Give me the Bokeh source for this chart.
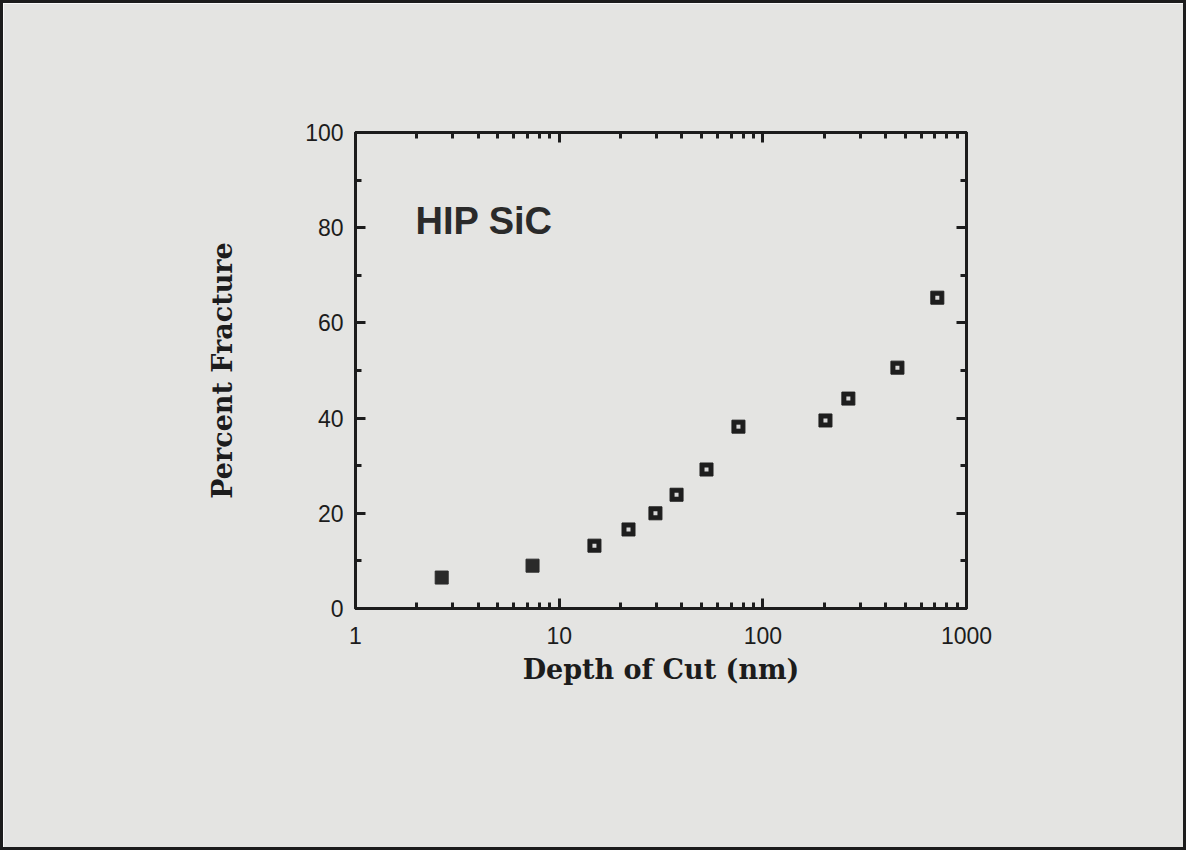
from bokeh.plotting import figure
from bokeh.models import FixedTicker, LinearAxis, LogAxis, Label, Range1d
from bokeh.embed import file_html
from bokeh.resources import INLINE

# Data
depth_filled = [2.65, 7.4]
frac_filled = [6.5, 9.0]
depth_open = [14.9, 21.9, 29.7, 37.7, 52.9, 75.9, 203, 263, 458, 719]
frac_open = [13.2, 16.6, 20.0, 23.9, 29.2, 38.2, 39.5, 44.1, 50.6, 65.3]

x_major = [1, 10, 100, 1000]
x_minor = [2, 3, 4, 5, 6, 7, 8, 9, 20, 30, 40, 50, 60, 70, 80, 90,
           200, 300, 400, 500, 600, 700, 800, 900]
y_major = [0, 20, 40, 60, 80, 100]
y_minor = [10, 30, 50, 70, 90]
x_labels = {1: "1", 10: "10", 100: "100", 1000: "1000"}
blank_x = {1: " ", 10: " ", 100: " ", 1000: " "}
blank_y = {0: " ", 20: " ", 40: " ", 60: " ", 80: " ", 100: " "}

BG = "#e4e4e2"
INK = "#1c1c1c"

p = figure(width=1186, height=850, x_axis_type="log",
           x_range=Range1d(1, 1000), y_range=Range1d(0, 100),
           output_backend="svg", toolbar_location=None,
           min_border_left=352, min_border_right=223,
           min_border_top=129, min_border_bottom=245)
p.background_fill_color = BG
p.border_fill_color = BG
p.grid.visible = False
p.outline_line_color = INK
p.outline_line_width = 3
p.styles = {"border": "3px solid #1c1c1c", "box-sizing": "border-box"}

xt = FixedTicker(ticks=x_major, minor_ticks=x_minor)
yt = FixedTicker(ticks=y_major, minor_ticks=y_minor)


def style_axis(ax):
    ax.axis_line_color = INK
    ax.axis_line_width = 3
    ax.major_tick_in = 10
    ax.major_tick_out = 0
    ax.minor_tick_in = 6
    ax.minor_tick_out = 0
    ax.major_tick_line_color = INK
    ax.major_tick_line_width = 3
    ax.minor_tick_line_color = INK
    ax.minor_tick_line_width = 3
    ax.major_label_text_font = "Liberation Sans"
    ax.major_label_text_font_size = "23px"
    ax.major_label_text_color = INK
    ax.axis_label_text_font = "DejaVu Serif"
    ax.axis_label_text_font_style = "bold"
    ax.axis_label_text_font_size = "27px"
    ax.axis_label_text_color = INK


xa = p.xaxis[0]
xa.ticker = xt
xa.major_label_overrides = x_labels
xa.axis_label = "Depth of Cut (nm)"
style_axis(xa)
xa.major_label_standoff = 18
xa.axis_label_standoff = 7

ya = p.yaxis[0]
ya.ticker = yt
ya.axis_label = "Percent Fracture"
style_axis(ya)
ya.major_label_standoff = 12
ya.axis_label_standoff = 64

top = LogAxis(ticker=xt)
style_axis(top)
top.major_label_overrides = blank_x
p.add_layout(top, "above")
right = LinearAxis(ticker=yt)
style_axis(right)
right.major_label_overrides = blank_y
p.add_layout(right, "right")

p.scatter(depth_filled, frac_filled, marker="square", size=13,
          fill_color="#2a2a2a", line_color="#2a2a2a")
p.scatter(depth_open, frac_open, marker="square", size=13,
          fill_color="#1e1e1e", line_color="#1e1e1e")
p.scatter(depth_open, frac_open, marker="square", size=4,
          fill_color="#d8d8d8", line_color=None)

p.add_layout(Label(x=1.97, y=77.1, text="HIP SiC",
                   text_font="Liberation Sans", text_font_style="bold",
                   text_font_size="38px", text_color="#2a2a2a"))

open("out.html", "w").write(file_html(p, INLINE))
